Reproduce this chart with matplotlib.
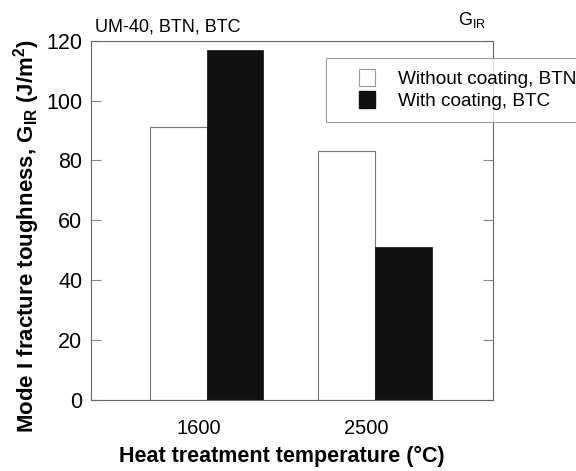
import matplotlib
matplotlib.use("Agg")
import matplotlib.pyplot as plt
import numpy as np
from matplotlib.patches import Patch, Rectangle
from matplotlib.legend_handler import HandlerPatch

plt.rcParams['font.family'] = ['Liberation Sans', 'DejaVu Sans']

temperatures = ["1600", "2500"]
without_coating = [91, 83]
with_coating = [117, 51]
series_labels = ["Without coating, BTN", "With coating, BTC"]
y_ticks = [0, 20, 40, 60, 80, 100, 120]

fig = plt.figure(figsize=(5.76, 4.71), dpi=100)
ax = fig.add_axes([0.1575, 0.1507, 0.698, 0.763])

x = np.arange(len(temperatures))
w = 0.336
ax.bar(x - w / 2, without_coating, w, color='white', edgecolor='#777777', linewidth=0.8)
ax.bar(x + w / 2, with_coating, w, color='#111111', edgecolor='#111111', linewidth=0.5)

ax.set_xlim(-0.69, 1.70)
ax.set_ylim(0, 120)
ax.set_yticks(y_ticks)
ax.set_xticks(x - 0.05)
ax.set_xticklabels(temperatures)
ax.tick_params(axis='x', length=0, labelsize=14.5, pad=14)
ax.tick_params(axis='y', direction='in', length=7, color='#888888', labelsize=15.5,
               right=True, labelright=False, pad=6)
for s in ax.spines.values():
    s.set_color('#666666')
    s.set_linewidth(0.8)

ax.set_xlabel("Heat treatment temperature (°C)", fontsize=15.5, fontweight='bold', labelpad=5)
ax.xaxis.set_label_coords(0.476, -0.128)
ax.set_ylabel("Mode I fracture toughness, G$_{\\mathregular{IR}}$ (J/m$^{\\mathregular{2}}$)",
              fontsize=16, fontweight='bold', labelpad=4)
ax.yaxis.set_label_coords(-0.12, 0.455)

fig.text(95 / 576, 1 - 32 / 471, "UM-40, BTN, BTC", fontsize=13, ha='left', va='baseline')
fig.text(472 / 576, 1 - 25 / 471, "G$_{\\mathregular{IR}}$", fontsize=13, ha='center', va='baseline')


def square_patch(legend, orig_handle, xdescent, ydescent, width, height, fontsize):
    sq = 12.2
    return Rectangle((-xdescent + width - sq, -ydescent + (height - sq) / 2), sq, sq)


handles = [Patch(facecolor='white', edgecolor='#999999', linewidth=0.8),
           Patch(facecolor='#111111', edgecolor='#111111')]
leg = fig.legend(handles, series_labels, loc='upper left',
                 bbox_to_anchor=(326 / 576, 1 - 58 / 471), fontsize=13.7,
                 frameon=True, fancybox=False, edgecolor='#888888',
                 handlelength=2.0, handleheight=0.9, handletextpad=1.2,
                 labelspacing=0.2, borderpad=0.6, borderaxespad=0,
                 handler_map={Patch: HandlerPatch(patch_func=square_patch)})
leg.get_frame().set_linewidth(0.8)

fig.savefig("out.png", dpi=100)
